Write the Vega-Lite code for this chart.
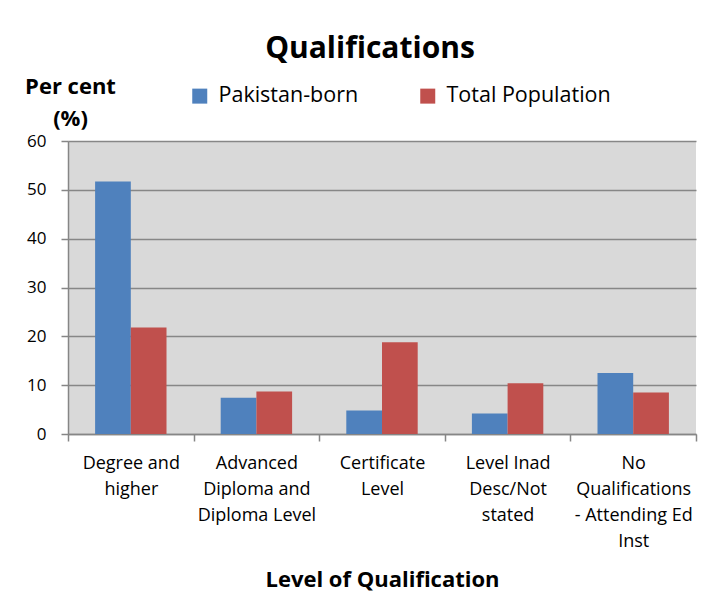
{
  "$schema": "https://vega.github.io/schema/vega-lite/v6.json",
  "width": 628,
  "height": 293,
  "autosize": {"type": "none"},
  "padding": {"left": 68, "top": 141, "right": 30, "bottom": 170},
  "background": "white",
  "title": {"text": "Qualifications", "font": "Open Sans", "fontSize": 30, "fontWeight": "bold", "color": "black", "anchor": "middle", "frame": "group", "dx": -12, "dy": -7},
  "data": {
    "values": [
      {"level": "Degree and higher", "group": "Pakistan-born", "value": 51.7},
      {"level": "Degree and higher", "group": "Total Population", "value": 21.8},
      {"level": "Advanced Diploma and Diploma Level", "group": "Pakistan-born", "value": 7.4},
      {"level": "Advanced Diploma and Diploma Level", "group": "Total Population", "value": 8.7},
      {"level": "Certificate Level", "group": "Pakistan-born", "value": 4.8},
      {"level": "Certificate Level", "group": "Total Population", "value": 18.8},
      {"level": "Level Inad Desc/Not stated", "group": "Pakistan-born", "value": 4.2},
      {"level": "Level Inad Desc/Not stated", "group": "Total Population", "value": 10.4},
      {"level": "No Qualifications - Attending Ed Inst", "group": "Pakistan-born", "value": 12.5},
      {"level": "No Qualifications - Attending Ed Inst", "group": "Total Population", "value": 8.5}
    ]
  },
  "mark": {"type": "bar"},
  "encoding": {
    "x": {
      "field": "level",
      "type": "nominal",
      "sort": null,
      "scale": {"paddingInner": 0, "paddingOuter": 0},
      "axis": {
        "labelAngle": 0,
        "labelFont": "Open Sans",
        "labelFontSize": 18,
        "labelColor": "black",
        "labelLineHeight": 26,
        "labelBaseline": "top",
        "labelPadding": 13,
        "labelOverlap": false,
        "labelBound": false,
        "labelLimit": 0,
        "labelExpr": "datum.label == 'Degree and higher' ? ['Degree and', 'higher'] : datum.label == 'Advanced Diploma and Diploma Level' ? ['Advanced', 'Diploma and', 'Diploma Level'] : datum.label == 'Certificate Level' ? ['Certificate', 'Level'] : datum.label == 'Level Inad Desc/Not stated' ? ['Level Inad', 'Desc/Not', 'stated'] : datum.label == 'No Qualifications - Attending Ed Inst' ? ['No', 'Qualifications', '- Attending Ed', 'Inst'] : ''",
        "tickBand": "extent",
        "tickSize": 7,
        "tickColor": "#868686",
        "tickWidth": 1.5,
        "domainColor": "#868686",
        "domainWidth": 1.5,
        "title": "Level of Qualification",
        "titleFont": "Open Sans",
        "titleFontSize": 22,
        "titleFontWeight": "bold",
        "titleColor": "black",
        "titleBaseline": "alphabetic",
        "titleY": 152
      }
    },
    "xOffset": {"field": "group", "sort": null, "scale": {"paddingInner": 0, "paddingOuter": 0.759}},
    "y": {
      "field": "value",
      "type": "quantitative",
      "scale": {"domain": [0, 60]},
      "axis": {
        "values": [0, 10, 20, 30, 40, 50, 60],
        "grid": true,
        "gridColor": "#878787",
        "gridWidth": 1.5,
        "tickSize": 7,
        "tickColor": "#868686",
        "tickWidth": 1.5,
        "domainColor": "#868686",
        "domainWidth": 1.5,
        "labelFont": "Open Sans",
        "labelFontSize": 17,
        "labelColor": "black",
        "labelPadding": 15,
        "title": ["Per cent", "(%)"],
        "titleAngle": 0,
        "titleX": 2,
        "titleY": -48,
        "titleAlign": "center",
        "titleBaseline": "alphabetic",
        "titleFont": "Open Sans",
        "titleFontSize": 22,
        "titleFontWeight": "bold",
        "titleColor": "black",
        "titleLineHeight": 32
      }
    },
    "color": {
      "field": "group",
      "type": "nominal",
      "sort": null,
      "scale": {"domain": ["Pakistan-born", "Total Population"], "range": ["#4f81bd", "#c0504d"]},
      "legend": {
        "title": null,
        "orient": "none",
        "legendX": 121,
        "legendY": -56,
        "direction": "horizontal",
        "symbolType": "square",
        "symbolSize": 225,
        "symbolStrokeWidth": 0,
        "symbolOpacity": 1,
        "labelFont": "Open Sans",
        "labelFontSize": 21.5,
        "labelColor": "black",
        "labelOffset": 8,
        "labelLimit": 0,
        "columnPadding": 58
      }
    }
  },
  "config": {"view": {"fill": "#d9d9d9", "stroke": null}}
}
